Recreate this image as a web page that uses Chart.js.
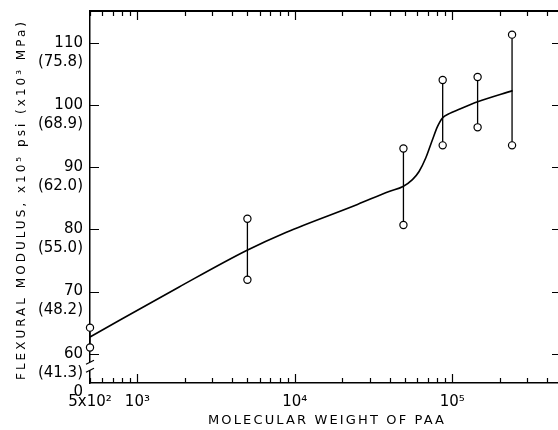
<!DOCTYPE html>
<html>
<head>
<meta charset="utf-8">
<script src="https://cdn.jsdelivr.net/npm/chart.js@4"></script>
<style>
    body { margin: 0; background: #fff; }
    canvas { display: block; }
</style>
</head>
<body>
<canvas id="modulusChart" width="558" height="430"></canvas>
<script>
// Flexural modulus vs molecular weight of PAA
const molWeights = [500, 5000, 49000, 87000, 145000, 240000];
const modulusLow = [61.0, 71.9, 80.7, 93.5, 96.4, 93.5];
const modulusHigh = [64.2, 81.7, 93.0, 104.0, 104.5, 111.3];

// hand-drawn trend curve
const curveX = [500, 1830, 4940, 8770, 25000, 39700, 48700, 55900, 61600, 68000, 74900, 80600, 86700, 95700, 110800, 145000, 242000];
const curveY = [62.7, 70.7, 76.6, 79.5, 84.0, 86.1, 86.9, 88.0, 89.3, 91.5, 94.4, 96.5, 97.9, 98.6, 99.3, 100.5, 102.3];

const xTickValues = [500, 1000, 10000, 100000];
const xTickLabels = ['5x10²', '10³', '10⁴', '10⁵'];
const yTickValues = [55.3, 60, 70, 80, 90, 100, 110];
const yTickLabels = ['0', '60', '70', '80', '90', '100', '110'];
const yTickMpa = ['', '(41.3)', '(48.2)', '(55.0)', '(62.0)', '(68.9)', '(75.8)'];

const xTitle = 'MOLECULAR WEIGHT OF PAA';
const yTitle = 'FLEXURAL MODULUS, x10⁵ psi (x10³ MPa)';

const xMin = 500, xMax = 470000;
const yMin = 55.3, yMax = 115.1;

// error bar segments, separated by gaps
const barPoints = [];
molWeights.forEach((w, i) => {
    barPoints.push({ x: w, y: modulusLow[i] }, { x: w, y: modulusHigh[i] }, { x: w, y: null });
});

const curvePoints = curveX.map((x, i) => ({ x: x, y: curveY[i] }));

// draws text stretched with letter spacing to a given length
function drawSpaced(ctx, text, cx, cy, length, rotation) {
    ctx.save();
    ctx.translate(cx, cy);
    ctx.rotate(rotation);
    ctx.letterSpacing = '0px';
    const natural = ctx.measureText(text).width;
    ctx.letterSpacing = ((length - natural) / (text.length - 1)) + 'px';
    ctx.textAlign = 'left';
    ctx.textBaseline = 'middle';
    ctx.fillText(text, -length / 2, 0);
    ctx.restore();
}

// inward tick marks, top frame line, axis break and titles
const axisMarks = {
    id: 'axisMarks',
    afterDraw(chart) {
        const { ctx, chartArea: a, scales } = chart;
        const xs = scales.x, ys = scales.y;
        ctx.save();
        ctx.strokeStyle = '#000';

        ctx.lineWidth = 2;
        ctx.beginPath();
        ctx.moveTo(a.left, a.top);
        ctx.lineTo(a.right, a.top);
        ctx.stroke();

        ctx.lineWidth = 1.2;
        ctx.beginPath();
        for (let d = 2; d <= 5; d++) {
            for (let m = 1; m <= 9; m++) {
                const v = m * Math.pow(10, d);
                if (v < xMin || v > xMax) continue;
                const px = Math.round(xs.getPixelForValue(v)) + 0.5;
                const len = m === 1 ? 9 : 5;
                ctx.moveTo(px, a.bottom);
                ctx.lineTo(px, a.bottom - len);
                ctx.moveTo(px, a.top);
                ctx.lineTo(px, a.top + len);
            }
        }
        yTickValues.slice(1).forEach(v => {
            const py = Math.round(ys.getPixelForValue(v)) + 0.5;
            ctx.moveTo(a.left, py);
            ctx.lineTo(a.left + 9, py);
            ctx.moveTo(a.right - 6, py);
            ctx.lineTo(a.right, py);
        });
        ctx.stroke();

        // axis break between 60 and 0
        const yb = ys.getPixelForValue(58);
        ctx.fillStyle = '#fff';
        ctx.fillRect(a.left - 2, yb - 4, 4, 8);
        ctx.beginPath();
        ctx.moveTo(a.left - 4, yb - 2);
        ctx.lineTo(a.left + 4, yb - 6);
        ctx.moveTo(a.left - 4, yb + 6);
        ctx.lineTo(a.left + 4, yb + 2);
        ctx.stroke();

        // axis titles
        ctx.fillStyle = '#000';
        ctx.font = '13px "DejaVu Sans"';
        drawSpaced(ctx, xTitle, 326, 421, 236, 0);
        ctx.font = '12px "DejaVu Sans"';
        drawSpaced(ctx, yTitle, 22, 201, 358, -Math.PI / 2);
        ctx.restore();
    }
};

new Chart(document.getElementById('modulusChart'), {
    type: 'line',
    data: {
        datasets: [
            {
                data: curvePoints,
                borderColor: '#000',
                borderWidth: 1.6,
                pointRadius: 0,
                cubicInterpolationMode: 'monotone',
                clip: false
            },
            {
                data: barPoints,
                borderColor: '#000',
                borderWidth: 1.3,
                spanGaps: false,
                pointRadius: 3.6,
                pointBorderWidth: 1.2,
                pointBackgroundColor: '#fff',
                pointBorderColor: '#000',
                clip: false
            }
        ]
    },
    options: {
        responsive: false,
        animation: false,
        events: [],
        layout: { autoPadding: false, padding: { top: 11, right: 0, left: 0, bottom: 0 } },
        plugins: {
            legend: { display: false },
            tooltip: { enabled: false }
        },
        scales: {
            x: {
                type: 'logarithmic',
                min: xMin,
                max: xMax,
                grid: { display: false, drawTicks: false },
                border: { display: true, color: '#000', width: 1.5 },
                afterBuildTicks: scale => {
                    scale.ticks = xTickValues.map(v => ({ value: v }));
                },
                afterFit: scale => {
                    scale.height = 47;
                    scale.paddingLeft = 0;
                    scale.paddingRight = 0;
                },
                ticks: {
                    autoSkip: false,
                    maxRotation: 0,
                    minRotation: 0,
                    padding: 10,
                    color: '#000',
                    font: { family: 'DejaVu Sans', size: 15 },
                    callback: value => {
                        const i = xTickValues.indexOf(value);
                        return i >= 0 ? xTickLabels[i] : '';
                    }
                }
            },
            y: {
                min: yMin,
                max: yMax,
                grid: { display: false, drawTicks: false },
                border: { display: true, color: '#000', width: 1.5 },
                afterBuildTicks: scale => {
                    scale.ticks = yTickValues.map(v => ({ value: v }));
                },
                afterFit: scale => {
                    scale.width = 90;
                    scale.paddingTop = 0;
                    scale.paddingBottom = 0;
                },
                ticks: {
                    autoSkip: false,
                    padding: 7,
                    labelOffset: 9.5,
                    color: '#000',
                    font: { family: 'DejaVu Sans', size: 15, lineHeight: 1.27 },
                    callback: value => {
                        const i = yTickValues.indexOf(value);
                        if (i < 0) return '';
                        return yTickMpa[i] ? [yTickLabels[i], yTickMpa[i]] : yTickLabels[i];
                    }
                }
            }
        }
    },
    plugins: [axisMarks]
});
</script>
</body>
</html>
